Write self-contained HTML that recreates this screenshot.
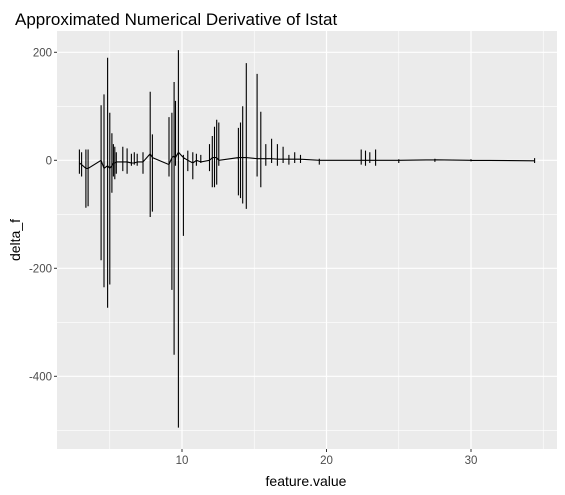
<!DOCTYPE html>
<html><head><meta charset="utf-8"><style>
body{margin:0;background:#fff;}
svg{display:block;font-family:"Liberation Sans",Arial,sans-serif;}
</style></head><body>
<svg id="chart" width="565" height="495">
<text x="15" y="25" font-size="17" fill="#000">Approximated Numerical Derivative of Istat</text>
<rect x="57" y="31" width="500" height="418" fill="#ebebeb"/>
<g id="grid"></g>
<g id="axes"></g>
<path id="line" fill="none" stroke="#000" stroke-width="1.1"/>
<text x="306" y="486" font-size="14" text-anchor="middle">feature.value</text>
<text transform="translate(20,240) rotate(-90)" font-size="14" text-anchor="middle">delta_f</text>
</svg>
<script>
const xTicks=[10,20,30];
const xMinor=[5,15,25,35];
const yTicks=[200,0,-200,-400];
const yMinor=[100,-100,-300,-500];
const spikeX=[2.9,3.05,3.35,3.5,4.4,4.6,4.85,5.0,5.15,5.25,5.35,5.45,5.9,6.2,6.5,6.7,6.9,7.3,7.8,7.95,9.1,9.3,9.45,9.55,9.75,10.1,10.4,10.75,11.0,11.3,11.9,12.1,12.25,12.4,12.55,13.9,14.05,14.2,14.45,15.2,15.45,15.8,16.2,16.6,17.0,17.4,17.8,18.2,19.5,22.4,22.7,23.0,23.4,25.0,27.5,30,34.4];
const spikeHi=[20,15,20,20,102,122,190,88,50,30,25,15,25,22,12,15,12,15,127,48,80,88,145,110,204,10,18,15,12,10,30,45,62,75,70,60,70,100,180,160,90,30,40,30,25,10,15,10,3,20,18,15,20,2,3,2,4];
const spikeLo=[-25,-30,-88,-85,-185,-235,-273,-230,-60,-30,-35,-25,-20,-25,-10,-8,-10,-25,-105,-95,-30,-240,-360,-10,-495,-140,-20,-35,-10,-5,-20,-50,-50,-45,-10,-65,-70,-80,-90,-30,-50,-10,-5,-10,-5,-8,-5,-5,-8,-8,-10,-5,-10,-5,-3,-2,-5];
const spikeBase=[-5,-8,-15,-15,0,-15,-10,-15,-10,-5,-5,-3,-3,-3,-5,-5,-3,-3,12,5,-8,5,8,5,15,5,0,-5,0,-3,0,5,5,5,0,5,5,5,5,3,3,3,3,2,2,2,2,2,0,0,0,0,0,0,1,0,-1];
const L=57,R=557,T=31,B=449;
const sx=v=>37.5+v*14.45;
const sy=v=>160.3-v*0.54;
const ns="http://www.w3.org/2000/svg";
const grid=document.getElementById('grid'),axes=document.getElementById('axes');
function ln(g,x1,y1,x2,y2,c,w){const e=document.createElementNS(ns,'line');e.setAttribute('x1',x1);e.setAttribute('y1',y1);e.setAttribute('x2',x2);e.setAttribute('y2',y2);e.setAttribute('stroke',c);e.setAttribute('stroke-width',w);g.appendChild(e);return e;}
function tx(x,y,s,a){const e=document.createElementNS(ns,'text');e.setAttribute('x',x);e.setAttribute('y',y);e.setAttribute('font-size','11.5');e.setAttribute('fill','#4d4d4d');e.setAttribute('text-anchor',a);e.textContent=s;axes.appendChild(e);return e;}
xMinor.forEach(v=>{const e=ln(grid,sx(v),T,sx(v),B,'#fff',0.6);

});
yMinor.forEach(v=>{const e=ln(grid,L,sy(v),R,sy(v),'#fff',0.6);

});
xTicks.forEach(v=>{const e=ln(grid,sx(v),T,sx(v),B,'#fff',1.2);


ln(axes,sx(v),B,sx(v),B+3,'#333',1);
const t=tx(sx(v),B+15,String(v),'middle');

});
yTicks.forEach(v=>{const e=ln(grid,L,sy(v),R,sy(v),'#fff',1.2);


ln(axes,L-3,sy(v),L,sy(v),'#333',1);
const t=tx(L-5,sy(v)+4,String(v),'end');

});
let d='';
spikeX.forEach((v,i)=>{const x=sx(v).toFixed(1);
d+=(i?'L':'M')+x+','+sy(spikeBase[i]).toFixed(1)+'L'+x+','+sy(spikeHi[i]).toFixed(1)+'L'+x+','+sy(spikeLo[i]).toFixed(1)+'L'+x+','+sy(spikeBase[i]).toFixed(1);});
document.getElementById('line').setAttribute('d',d);
</script>
</body></html>
